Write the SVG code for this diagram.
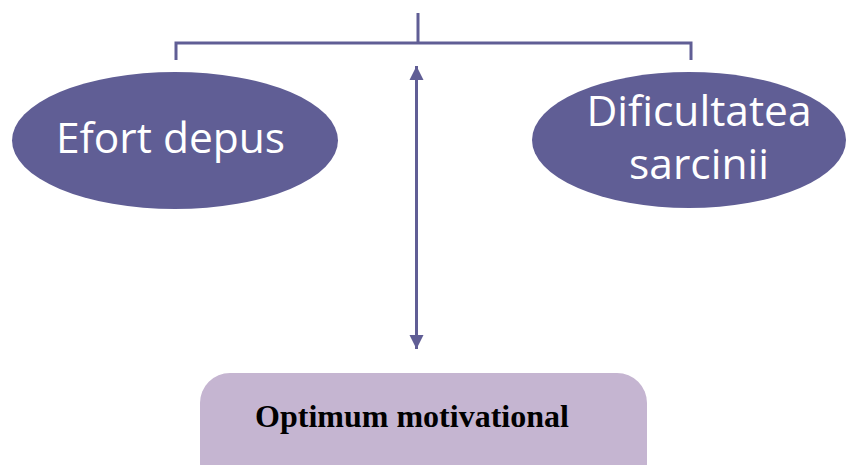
<svg xmlns="http://www.w3.org/2000/svg" width="846" height="465" viewBox="0 0 846 465">
<defs>
<style>
.node{fill:#605E95;}
.lbl{fill:#ffffff;font-family:"Open Sans","Noto Sans",sans-serif;font-size:42.5px;text-anchor:middle;}
.line{stroke:#605E95;stroke-width:3;fill:none;}
.box{fill:#C5B5D1;}
.boxlbl{font-family:"Liberation Serif",serif;font-weight:bold;font-size:32px;text-anchor:middle;fill:#000;}
</style>
<marker id="ah" viewBox="0 0 10 10" refX="10" refY="5" markerWidth="14" markerHeight="18" markerUnits="userSpaceOnUse" orient="auto-start-reverse">
<path d="M0,0 L10,5 L0,10 z" fill="#605E95"/>
</marker>
</defs>
<rect width="846" height="465" fill="#ffffff"/>
<g id="connectors">
<path class="line" d="M418,13 V43 M176,60 V43 H691 V60"/>
<line class="line" x1="416.5" y1="66" x2="416.5" y2="349" marker-start="url(#ah)" marker-end="url(#ah)"/>
</g>
<g id="efort">
<ellipse class="node" cx="175" cy="140.5" rx="163" ry="68.5"/>
<text class="lbl" x="170.5" y="153">Efort depus</text>
</g>
<g id="dificultatea">
<ellipse class="node" cx="689" cy="140" rx="157" ry="68"/>
<text class="lbl" x="699" y="126">Dificultatea</text>
<text class="lbl" x="699" y="179">sarcinii</text>
</g>
<g id="optimum">
<rect class="box" x="200" y="373" width="447" height="120" rx="30"/>
<text class="boxlbl" x="412" y="427">Optimum motivational</text>
</g>
</svg>
